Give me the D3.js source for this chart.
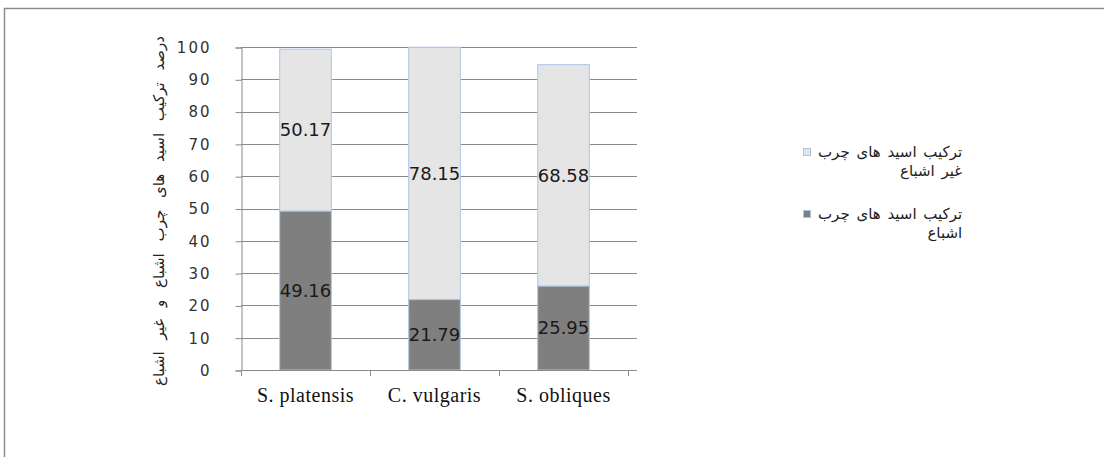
<!DOCTYPE html>
<html>
<head>
<meta charset="utf-8">
<script src="https://cdn.jsdelivr.net/npm/d3@7"></script>
<style>
  body { margin: 0; background: #fff; }
  svg { display: block; }
</style>
</head>
<body>
<div id="chart"></div>
<script>
const categories = ["S. platensis", "C. vulgaris", "S. obliques"];
const saturated = [49.16, 21.79, 25.95];   // اشباع
const unsaturated = [50.17, 78.15, 68.58]; // غیر اشباع
const yTicks = [0, 10, 20, 30, 40, 50, 60, 70, 80, 90, 100];
const yTitle = "درصد ترکیب اسید های چرب اشباع و غیر اشباع";
const legendLabels = [
    ["ترکیب اسید های چرب", "غیر اشباع"],
    ["ترکیب اسید های چرب", "اشباع"]
];

const width = 1104;
const height = 457;
const arabicFont = "'DejaVu Sans', sans-serif";
const lightColor = "#e5e5e5";
const darkColor = "#7f7f7f";
const barStroke = "#a9c5ea";

const svg = d3.select("#chart").append("svg")
    .attr("width", width)
    .attr("height", height);

// cadre gris
svg.append("path")
    .attr("d", `M4.5,${height} V8.5 H${width}`)
    .attr("fill", "none")
    .attr("stroke", "#8c8c8c")
    .attr("stroke-width", 1.5);

const x = d3.scaleBand()
    .domain(categories)
    .range([241, 628])
    .paddingInner(0.6)
    .paddingOuter(0.3);

const y = d3.scaleLinear()
    .domain([0, 100])
    .range([370, 47]);

// lignes de grille
svg.append("g")
    .selectAll("line")
    .data(yTicks)
    .enter().append("line")
    .attr("x1", 241)
    .attr("x2", 637)
    .attr("y1", d => Math.round(y(d)) + 0.5)
    .attr("y2", d => Math.round(y(d)) + 0.5)
    .attr("stroke", "#8a8a8a");

// axe Y
const yAxis = svg.append("g")
    .attr("transform", "translate(241.5,0.5)")
    .call(d3.axisLeft(y).tickValues(yTicks).tickSize(6).tickPadding(24).tickFormat(d3.format("d")));
yAxis.select(".domain").attr("stroke", "#8a8a8a");
yAxis.selectAll(".tick line").attr("stroke", "#8a8a8a");
yAxis.selectAll("text")
    .style("font-family", "'DejaVu Sans', Verdana, sans-serif")
    .style("font-size", "15px")
    .style("letter-spacing", "2px")
    .attr("fill", "#333");

// barres empilées
const rows = categories.map((c, i) => ({ cat: c, sat: saturated[i], unsat: unsaturated[i] }));

const groups = svg.append("g").selectAll("g")
    .data(rows)
    .enter().append("g");

groups.append("rect")
    .attr("x", d => x(d.cat))
    .attr("width", x.bandwidth())
    .attr("y", d => y(d.sat + d.unsat))
    .attr("height", d => y(d.sat) - y(d.sat + d.unsat))
    .attr("fill", lightColor)
    .attr("stroke", barStroke);

groups.append("rect")
    .attr("x", d => x(d.cat))
    .attr("width", x.bandwidth())
    .attr("y", d => y(d.sat))
    .attr("height", d => y(0) - y(d.sat))
    .attr("fill", darkColor)
    .attr("stroke", barStroke);

// étiquettes de valeurs
groups.append("text")
    .attr("x", d => x(d.cat) + x.bandwidth() / 2)
    .attr("y", d => y(d.sat + d.unsat / 2))
    .attr("dy", "0.35em")
    .attr("text-anchor", "middle")
    .style("font-family", "'DejaVu Sans', sans-serif")
    .style("font-size", "18px")
    .attr("fill", "#1a1a1a")
    .text(d => d.unsat.toFixed(2));

groups.append("text")
    .attr("x", d => x(d.cat) + x.bandwidth() / 2)
    .attr("y", d => y(d.sat / 2))
    .attr("dy", "0.35em")
    .attr("text-anchor", "middle")
    .style("font-family", "'DejaVu Sans', sans-serif")
    .style("font-size", "18px")
    .attr("fill", "#1a1a1a")
    .text(d => d.sat.toFixed(2));

// axe X
const xAxisLine = svg.append("g");
xAxisLine.append("line")
    .attr("x1", 241).attr("x2", 628)
    .attr("y1", 370.5).attr("y2", 370.5)
    .attr("stroke", "#8a8a8a");
xAxisLine.selectAll(".xt")
    .data(d3.range(categories.length + 1))
    .enter().append("line")
    .attr("x1", i => Math.round(241 + i * x.step()) + 0.5)
    .attr("x2", i => Math.round(241 + i * x.step()) + 0.5)
    .attr("y1", 370).attr("y2", 376)
    .attr("stroke", "#8a8a8a");

svg.append("g").selectAll("text")
    .data(categories)
    .enter().append("text")
    .attr("x", d => x(d) + x.bandwidth() / 2)
    .attr("y", 402)
    .attr("text-anchor", "middle")
    .style("font-family", "'Liberation Serif', 'Times New Roman', serif")
    .style("font-size", "20px")
    .style("letter-spacing", "0.5px")
    .attr("fill", "#111")
    .text(d => d);

// titre axe Y
svg.append("text")
    .attr("transform", "translate(159,211) rotate(-90)")
    .attr("text-anchor", "middle")
    .attr("dy", "0.35em")
    .style("font-family", arabicFont)
    .style("font-size", "15px")
    .style("word-spacing", "7px")
    .attr("fill", "#222")
    .text(yTitle);

// légende : carré à gauche, texte RTL aligné à droite
const legendColors = [lightColor, darkColor];
const legendY = [152, 214];

legendLabels.forEach((lines, i) => {
    const g = svg.append("g");
    g.append("rect")
        .attr("x", 803.5)
        .attr("y", legendY[i] - 3.5)
        .attr("width", 7)
        .attr("height", 7)
        .attr("fill", legendColors[i])
        .attr("stroke", barStroke);
    const first = g.append("text")
        .attr("x", 818)
        .attr("y", legendY[i])
        .attr("dy", "0.35em")
        .attr("text-anchor", "start")
        .style("font-family", arabicFont)
        .style("font-size", "15px")
        .style("word-spacing", "2px")
        .attr("fill", "#222")
        .text(lines[0]);
    const box = first.node().getBBox();
    g.append("text")
        .attr("x", box.x + box.width)
        .attr("y", legendY[i] + 19)
        .attr("dy", "0.35em")
        .attr("text-anchor", "end")
        .style("font-family", arabicFont)
        .style("font-size", "15px")
        .style("word-spacing", "2px")
        .attr("fill", "#222")
        .text(lines[1]);
});
</script>
</body>
</html>
